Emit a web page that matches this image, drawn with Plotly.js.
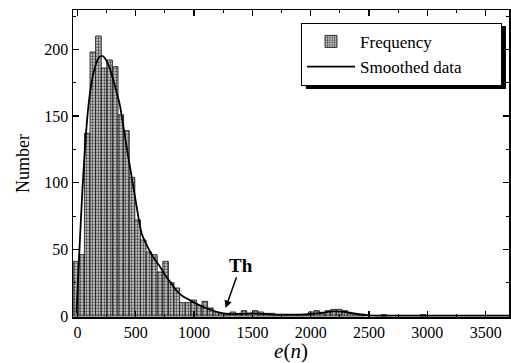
<!DOCTYPE html>
<html>
<head>
<meta charset="utf-8">
<script src="https://cdn.plot.ly/plotly-3.0.1.min.js"></script>
<style>html,body{margin:0;padding:0;background:#fff;}#chart{width:511px;height:363px;}</style>
</head>
<body>
<div id="chart"></div>
<script>
// Histogram bins (centers of e(n) bins) and counts
var binCenters = [-12, 36, 84, 132, 180, 228, 276, 324, 372, 420, 468, 516, 564, 612, 660, 708, 756, 804, 852, 900,
  948, 996, 1044, 1092, 1140, 1188, 1236, 1284, 1332, 1380, 1428, 1476, 1524, 1572, 1620, 1668, 1716, 1764, 1812, 1860,
  1908, 1956, 2004, 2052, 2100, 2148, 2196, 2244, 2292, 2340, 2388, 2436, 2628, 2964];
var frequency = [41, 46, 137, 198, 210, 186, 192, 187, 151, 139, 104, 72, 57, 48, 46, 33, 41, 25, 21, 10,
  10, 12, 8, 11, 6, 3, 2, 1, 3, 2, 4, 2, 4, 3, 2, 2, 1, 1, 1, 1,
  1, 1, 3, 4, 2, 4, 5, 5, 4, 2, 1, 1, 1, 1];
var binWidth = 48;

// Smoothed curve
var smoothX = [-8, 20, 45, 70, 95, 125, 155, 185, 215, 245, 280, 320, 364, 405, 450, 500, 550, 600, 650, 700,
  750, 800, 850, 900, 950, 1000, 1100, 1200, 1300, 1400, 1500, 1600, 1700, 1800, 1900, 2000, 2100, 2200, 2300, 2400,
  2500, 2700, 3000, 3300, 3700];
var smoothY = [2, 55, 98, 133, 158, 177, 188, 194, 195, 192, 185, 173, 158, 136, 112, 86, 62, 52, 44, 38,
  31, 25, 19, 15, 12.5, 10, 6, 3, 1.5, 1.5, 2, 1.5, 1, 1, 1, 1.5, 2.5, 3.5, 3, 1.5,
  0.5, 0.3, 0.3, 0.3, 0.3];

var xTickVals = [0, 500, 1000, 1500, 2000, 2500, 3000, 3500];
var yTickVals = [0, 50, 100, 150, 200];

var serif = "'Liberation Serif', 'Times New Roman', serif";
var pad = '\u00a0\u00a0\u00a0\u00a0\u00a0\u00a0\u00a0\u00a0';

var traces = [
  {
    type: 'bar', name: 'Frequency' + pad, x: binCenters, y: frequency,
    width: binCenters.map(function(){return binWidth;}),
    marker: {
      color: '#bdbdbd',
      pattern: {shape: '.', fgcolor: '#444', bgcolor: '#cfcfcf', size: 3, solidity: 0.45},
      line: {color: '#222', width: 0.9}
    }
  },
  {
    type: 'scatter', mode: 'lines', name: 'Smoothed data' + pad, x: smoothX, y: smoothY,
    line: {color: '#000', width: 1.8, shape: 'spline', smoothing: 0.6}
  }
];

var axisCommon = {
  showline: true, linecolor: '#000', linewidth: 1.5, mirror: 'ticks',
  ticks: 'inside', ticklen: 6, tickwidth: 1.2, tickcolor: '#000',
  showgrid: false, zeroline: false,
  tickfont: {family: serif, size: 16, color: '#000'}
};

var layout = {
  width: 511, height: 363,
  margin: {l: 73, r: 2, t: 10, b: 46},
  paper_bgcolor: '#fff', plot_bgcolor: '#fff',
  bargap: 0,
  showlegend: true,
  font: {family: serif, color: '#000'},
  xaxis: Object.assign({}, axisCommon, {
    range: [-38, 3700], tickvals: xTickVals, automargin: true,
    minor: {dtick: 250, tick0: 0, ticks: 'inside', ticklen: 3, tickwidth: 1, tickcolor: '#000'},
    title: {text: '<i>e</i>(<i>n</i>)', font: {family: serif, size: 21, color: '#000'}, standoff: 0}
  }),
  yaxis: Object.assign({}, axisCommon, {
    range: [-0.75, 229.5], tickvals: yTickVals,
    minor: {dtick: 25, tick0: 0, ticks: 'inside', ticklen: 3, tickwidth: 1, tickcolor: '#000'},
    title: {text: 'Number', font: {family: serif, size: 18, color: '#000'}, standoff: 10}
  }),
  legend: {
    x: 0.984, y: 0.958, xanchor: 'right', yanchor: 'top',
    bgcolor: '#fff', bordercolor: '#000', borderwidth: 1,
    font: {family: serif, size: 17, color: '#000'},
    itemwidth: 48, tracegroupgap: 0
  },
  shapes: [
    {type: 'rect', xref: 'paper', yref: 'paper', x0: 0.534, x1: 0.993, y0: 0.743, y1: 0.948,
     fillcolor: '#000', line: {width: 0}, layer: 'above'}
  ],
  annotations: [
    {x: 1270, y: 6, xref: 'x', yref: 'y', ax: 1400, ay: 38, axref: 'x', ayref: 'y',
     text: '<b>Th</b>', font: {family: serif, size: 19, color: '#000'},
     showarrow: true, arrowhead: 2, arrowsize: 1, arrowwidth: 1.5, arrowcolor: '#000', standoff: 0}
  ]
};

Plotly.newPlot('chart', traces, layout, {staticPlot: true, displayModeBar: false});
</script>
</body>
</html>
